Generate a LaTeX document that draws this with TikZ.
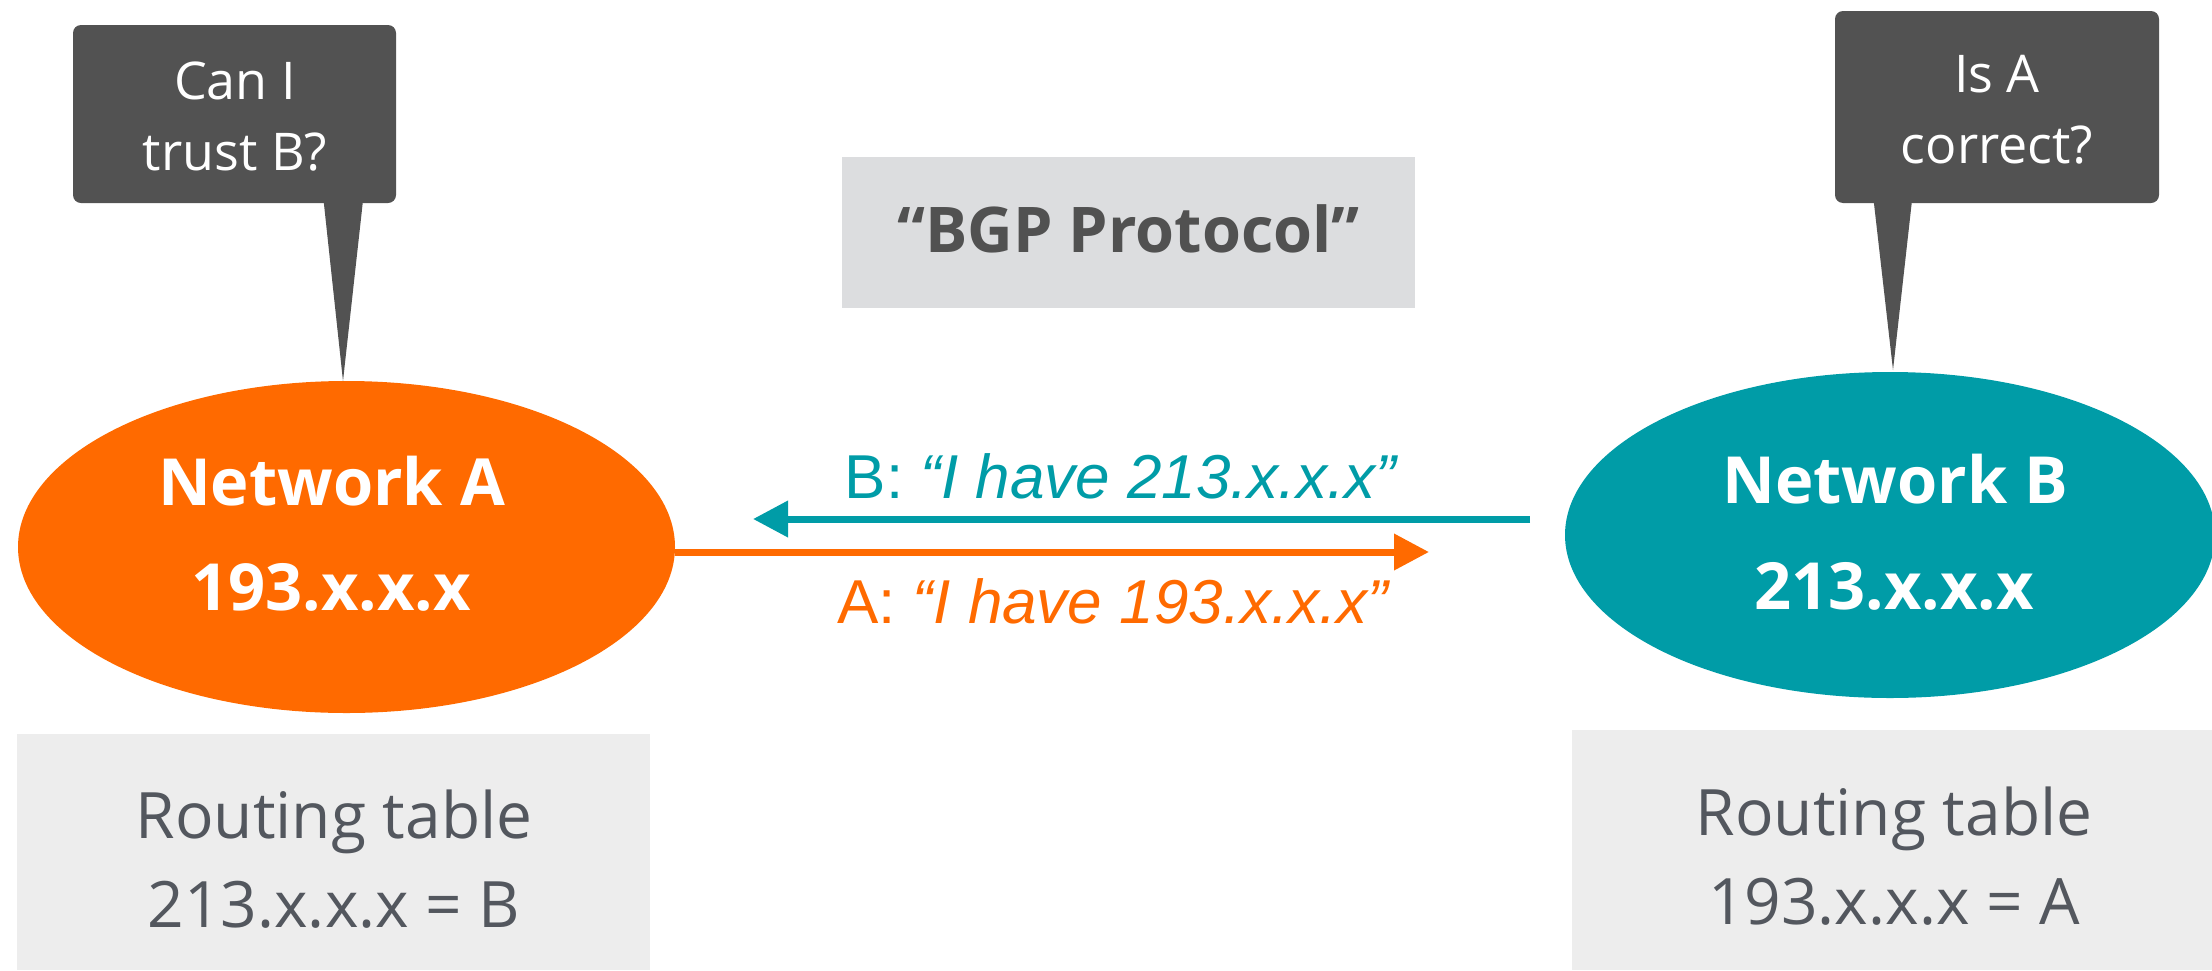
\documentclass[tikz,border=0pt]{standalone}
\usepackage{fontspec}
\setmainfont{Open Sans}
\newfontfamily\arialfont{Liberation Sans}
\usetikzlibrary{shapes.geometric,arrows.meta,calc}

\definecolor{netorange}{HTML}{FF6A00}
\definecolor{netteal}{HTML}{009CA7}
\definecolor{bubble}{HTML}{525252}
\definecolor{protogray}{HTML}{DCDDDF}
\definecolor{tablegray}{HTML}{EDEDED}
\definecolor{tabletext}{HTML}{53575E}
\definecolor{prototext}{HTML}{515151}

\begin{document}
\begin{tikzpicture}[x=1pt,y=-1pt,
  netnode/.style={ellipse, inner sep=0pt, draw=none},
  nettext/.style={anchor=base, text=white, font=\fontsize{65}{78}\selectfont\bfseries},
  bubblebox/.style={fill=bubble, rounded corners=8pt, inner sep=0pt},
  bubbletext/.style={anchor=base, text=white, font=\fontsize{52}{62}\selectfont},
  msgarrow/.style={line width=7pt, -{Triangle[length=35pt,width=35pt]}},
  msgtext/.style={anchor=base, font=\arialfont\fontsize{62}{74}\selectfont},
  tablebox/.style={fill=tablegray, inner sep=0pt},
  tableline/.style={anchor=base, text=tabletext, font=\fontsize{64}{76}\selectfont},
]
\useasboundingbox (0,0) rectangle (2212,970);
\clip (0,0) rectangle (2212,970);

% protocol title
\node[fill=protogray, inner sep=0pt, minimum width=573pt, minimum height=151pt] (bgp) at (1128.5,232.5) {};
\node[anchor=base, text=prototext, font=\fontsize{63}{76}\selectfont\bfseries] (bgptext) at (1128.5,252) {“BGP Protocol”};

% the two networks
\node[netnode, fill=netorange, minimum width=657pt, minimum height=332pt] (netA) at (346.5,547) {};
\node[netnode, fill=netteal, minimum width=650pt, minimum height=326pt] (netB) at (1890,535) {};
\node[nettext] (netAname) at (331.5,505) {Network A};
\node[nettext] (netAaddr) at (331,610) {193.x.x.x};
\node[nettext] (netBname) at (1895,503) {Network B};
\node[nettext] (netBaddr) at (1894,609) {213.x.x.x};

% speech bubbles
\node[bubblebox, minimum width=323pt, minimum height=178pt] (callA) at (234.5,114) {};
\node[bubblebox, minimum width=324pt, minimum height=192pt] (callB) at (1997,107) {};
\coordinate (tipA) at (343,381);
\coordinate (tipB) at (1893,370);
\fill[bubble] ($(callA.south west)+(250,-10)$) -- ($(callA.south west)+(291,-10)$) -- (tipA) -- cycle;
\fill[bubble] ($(callB.south west)+(38,-10)$) -- ($(callB.south west)+(78,-10)$) -- (tipB) -- cycle;
\node[bubbletext] (callA1) at (235,99) {Can I};
\node[bubbletext] (callA2) at (235,170) {trust B?};
\node[bubbletext] (callB1) at (1997,92) {Is A};
\node[bubbletext] (callB2) at (1997,163) {correct?};

% announcements
\coordinate (aTip) at (1429,552);
\coordinate (bStart) at (1530,519);
\coordinate (bTip) at (753,519);
\draw[msgarrow, netorange] ([yshift=-5pt]netA.east) -- (aTip);
\draw[msgarrow, netteal] (bStart) -- (bTip);
\node[msgtext, text=netteal] (msgB) at (1121.5,498) {B: \textit{“I have 213.x.x.x”}};
\node[msgtext, text=netorange] (msgA) at (1114,623) {A: \textit{“I have 193.x.x.x”}};

% routing tables
\node[tablebox, minimum width=633pt, minimum height=236pt] (tblA) at (333.5,852) {};
\node[tablebox, minimum width=648pt, minimum height=240pt] (tblB) at (1896,850) {};
\node[tableline] (tblA1) at (334,838) {Routing table};
\node[tableline] (tblA2) at (334,927) {213.x.x.x = B};
\node[tableline] (tblB1) at (1894,835) {Routing table};
\node[tableline] (tblB2) at (1894,924) {193.x.x.x = A};
\end{tikzpicture}
\end{document}
